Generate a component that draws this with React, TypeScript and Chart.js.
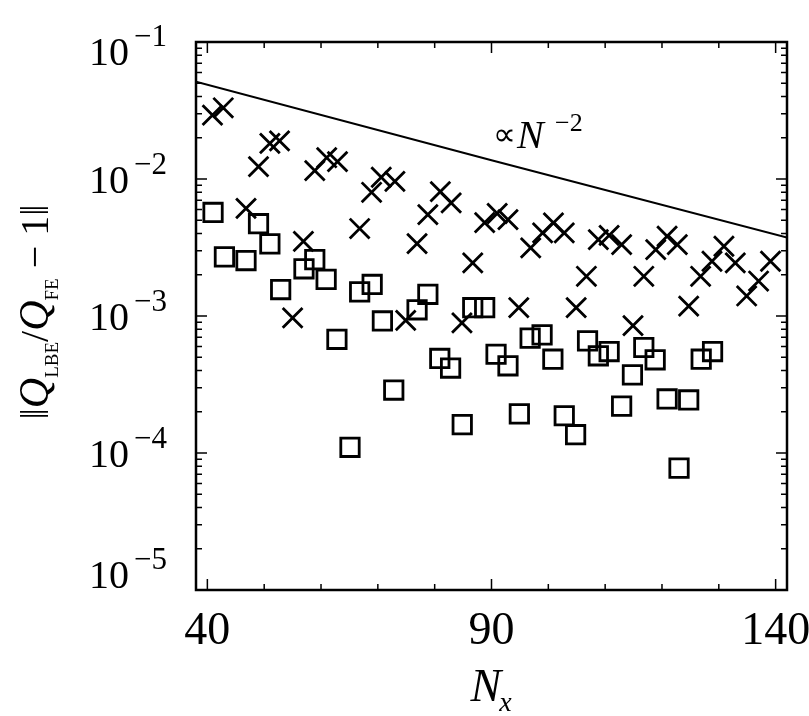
import React, { useEffect, useRef } from "react";
import { Chart, registerables } from "chart.js";

Chart.register(...registerables);

// Crosses (x markers)
const crossN = [40.9, 42.8, 46.8, 49.0, 51.0, 52.7, 55.0, 56.9, 58.9, 61.0, 62.9, 66.8, 68.9, 70.6, 73.0, 74.9, 76.9, 78.8, 81.0, 82.9, 84.8, 86.7, 88.8, 91.0, 92.9, 94.8, 96.9, 99.0, 100.9, 102.8, 104.9, 106.7, 108.8, 110.7, 112.9, 114.9, 116.8, 118.9, 120.9, 122.7, 124.7, 126.8, 128.8, 130.9, 132.9, 134.9, 137.0, 139.1];
const crossErr = [2.93e-2, 3.31e-2, 6.1e-3, 1.23e-2, 1.82e-2, 1.9e-2, 9.7e-4, 3.5e-3, 1.15e-2, 1.43e-2, 1.34e-2, 4.35e-3, 8.0e-3, 1.03e-2, 9.6e-3, 9.3e-4, 3.37e-3, 5.5e-3, 8.1e-3, 6.7e-3, 8.9e-4, 2.44e-3, 4.8e-3, 5.6e-3, 5.05e-3, 1.15e-3, 3.14e-3, 4.04e-3, 4.78e-3, 4.04e-3, 1.15e-3, 1.95e-3, 3.61e-3, 3.88e-3, 3.32e-3, 8.5e-4, 1.95e-3, 3.05e-3, 3.82e-3, 3.32e-3, 1.18e-3, 1.95e-3, 2.51e-3, 3.23e-3, 2.44e-3, 1.4e-3, 1.8e-3, 2.51e-3];

// Squares
const squareN = [41.0, 43.0, 46.8, 49.0, 51.0, 52.9, 57.0, 58.9, 60.9, 62.8, 65.1, 66.8, 69.0, 70.8, 72.8, 76.9, 78.8, 80.9, 82.8, 84.85, 86.7, 88.8, 90.8, 92.9, 94.9, 96.8, 98.9, 100.8, 102.8, 104.8, 106.9, 108.8, 110.7, 112.9, 114.8, 116.8, 118.8, 120.9, 123.0, 124.7, 126.9, 128.9];
const squareErr = [5.7e-3, 2.7e-3, 2.54e-3, 4.72e-3, 3.36e-3, 1.56e-3, 2.21e-3, 2.58e-3, 1.85e-3, 6.76e-4, 1.1e-4, 1.5e-3, 1.7e-3, 9.2e-4, 2.88e-4, 1.11e-3, 1.44e-3, 4.9e-4, 4.17e-4, 1.61e-4, 1.15e-3, 1.15e-3, 5.26e-4, 4.33e-4, 1.93e-4, 6.89e-4, 7.28e-4, 4.84e-4, 1.87e-4, 1.36e-4, 6.58e-4, 5.12e-4, 5.5e-4, 2.2e-4, 3.72e-4, 5.89e-4, 4.79e-4, 2.48e-4, 7.76e-5, 2.44e-4, 4.84e-4, 5.5e-4];

// Reference line (proportional to N^-2)
const refN = [38, 90, 142];
const refErr = [5.13e-2, 1.37e-2, 3.74e-3];

// Axis ticks
const xMajor = [40, 90, 140];
const xMinor = [50, 60, 70, 80, 100, 110, 120, 130];
const yExponents = [-1, -2, -3, -4, -5];

const SERIF = '"Liberation Serif", "Times New Roman", serif';

const decorPlugin = {
  id: "decor",
  afterDraw(chart: any) {
    const ctx: CanvasRenderingContext2D = chart.ctx;
    const { left, right, top, bottom } = chart.chartArea;
    const xs = chart.scales.x;
    const ys = chart.scales.y;
    ctx.save();
    ctx.strokeStyle = "#000";
    ctx.fillStyle = "#000";

    // frame
    ctx.lineWidth = 2.5;
    ctx.strokeRect(left, top, right - left, bottom - top);

    // x ticks (top and bottom, inward)
    ctx.lineWidth = 1.5;
    const xt = (v: number, len: number) => {
      const p = xs.getPixelForValue(v);
      ctx.beginPath();
      ctx.moveTo(p, bottom);
      ctx.lineTo(p, bottom - len);
      ctx.moveTo(p, top);
      ctx.lineTo(p, top + len);
      ctx.stroke();
    };
    xMajor.forEach((v) => xt(v, 11));
    xMinor.forEach((v) => xt(v, 6));

    // y ticks (left and right, inward)
    const yt = (v: number, len: number) => {
      const p = ys.getPixelForValue(v);
      ctx.beginPath();
      ctx.moveTo(left, p);
      ctx.lineTo(left + len, p);
      ctx.moveTo(right, p);
      ctx.lineTo(right - len, p);
      ctx.stroke();
    };
    yExponents.forEach((e) => {
      yt(Math.pow(10, e), 11);
      if (e > -1) return;
      for (let m = 2; m <= 9; m++) {
        const v = m * Math.pow(10, e - 1);
        if (v >= 1e-5) yt(v, 6);
      }
    });

    // y tick labels
    yExponents.forEach((e) => {
      const p = ys.getPixelForValue(Math.pow(10, e));
      let base = p + 13.5;
      base = Math.max(65, Math.min(588, base));
      const sup = "\u2212" + String(-e);
      ctx.textBaseline = "alphabetic";
      ctx.font = "40px " + SERIF;
      ctx.textAlign = "right";
      ctx.fillText("10", 129, base);
      ctx.font = "31px " + SERIF;
      ctx.textAlign = "left";
      ctx.fillText(sup, 134, base - 19);
    });

    // x tick labels
    ctx.font = "46px " + SERIF;
    ctx.textAlign = "center";
    xMajor.forEach((v) => {
      ctx.fillText(String(v), xs.getPixelForValue(v), 644);
    });

    // x axis title N_x
    {
      ctx.textAlign = "left";
      ctx.font = "italic 46px " + SERIF;
      const nw = ctx.measureText("N").width;
      ctx.font = "italic 28px " + SERIF;
      const sw = ctx.measureText("x").width;
      const x0 = 492 - (nw + sw) / 2;
      ctx.font = "italic 46px " + SERIF;
      ctx.fillText("N", x0, 701);
      ctx.font = "italic 28px " + SERIF;
      ctx.fillText("x", x0 + nw - 2, 711);
    }

    // y axis title
    {
      type Part = { t: string; f: string; dy: number };
      const big = "40px " + SERIF;
      const it = "italic 42px " + SERIF;
      const sub = "19px " + SERIF;
      const parts: Part[] = [
        { t: "\u2016", f: big, dy: 0 },
        { t: "Q", f: it, dy: 0 },
        { t: "LBE", f: sub, dy: 10 },
        { t: "/", f: big, dy: 0 },
        { t: "Q", f: it, dy: 0 },
        { t: "FE", f: sub, dy: 10 },
        { t: " \u2212 ", f: big, dy: 0 },
        { t: "1", f: big, dy: 0 },
        { t: "\u2016", f: big, dy: 0 },
      ];
      let total = 0;
      const widths = parts.map((p) => {
        ctx.font = p.f;
        const w = ctx.measureText(p.t).width;
        total += w;
        return w;
      });
      ctx.translate(48, 312);
      ctx.rotate(-Math.PI / 2);
      ctx.textAlign = "left";
      let x = -total / 2;
      parts.forEach((p, i) => {
        ctx.font = p.f;
        ctx.fillText(p.t, x, p.dy);
        x += widths[i];
      });
      ctx.setTransform(1, 0, 0, 1, 0, 0);
    }

    // annotation  ∝ N^-2
    {
      ctx.textAlign = "left";
      ctx.font = "32px " + SERIF;
      ctx.fillText("\u221D", 493, 145);
      ctx.font = "italic 40px " + SERIF;
      ctx.fillText("N", 517, 148);
      ctx.font = "26px " + SERIF;
      ctx.fillText("\u22122", 555, 131);
    }
    ctx.restore();
  },
};

export default function App() {
  const ref = useRef<HTMLCanvasElement | null>(null);
  useEffect(() => {
    if (!ref.current) return;
    const chart = new Chart(ref.current, {
      type: "scatter",
      data: {
        datasets: [
          {
            label: "crosses",
            data: crossN.map((x, i) => ({ x, y: crossErr[i] })),
            pointStyle: "crossRot",
            pointRadius: 14,
            borderWidth: 2.8,
            borderColor: "#000",
            backgroundColor: "rgba(0,0,0,0)",
            showLine: false,
          },
          {
            label: "squares",
            data: squareN.map((x, i) => ({ x, y: squareErr[i] })),
            pointStyle: "rect",
            pointRadius: 13,
            borderWidth: 2.8,
            borderColor: "#000",
            backgroundColor: "rgba(0,0,0,0)",
            showLine: false,
          },
          {
            label: "N^-2",
            data: refN.map((x, i) => ({ x, y: refErr[i] })),
            showLine: true,
            pointRadius: 0,
            borderColor: "#000",
            borderWidth: 2,
            tension: 0,
          },
        ],
      },
      options: {
        responsive: false,
        animation: false,
        events: [],
        layout: { padding: { left: 196, top: 42, right: 22, bottom: 126 } },
        plugins: { legend: { display: false }, tooltip: { enabled: false } },
        scales: {
          x: { type: "linear", min: 38, max: 142, display: false },
          y: { type: "logarithmic", min: 1e-5, max: 1e-1, display: false },
        },
      },
      plugins: [decorPlugin],
    });
    return () => chart.destroy();
  }, []);
  return (
    <div style={{ position: "fixed", left: 0, top: 0, width: 809, height: 716, background: "#fff" }}>
      <canvas ref={ref} width={809} height={716} style={{ display: "block", width: 809, height: 716 }} />
    </div>
  );
}
